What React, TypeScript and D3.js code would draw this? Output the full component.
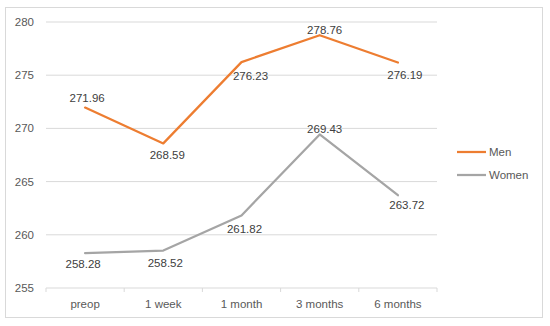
import React from "react";
import * as d3 from "d3";

const categories = ["preop", "1 week", "1 month", "3 months", "6 months"];
const menValues = [271.96, 268.59, 276.23, 278.76, 276.19];
const womenValues = [258.28, 258.52, 261.82, 269.43, 263.72];
const yTicks = [255, 260, 265, 270, 275, 280];
const seriesNames = ["Men", "Women"];

// label offsets (layout config, px)
const menLabelOffsets: [number, number][] = [[2, -10], [4, 12], [9, 14], [5, -5], [7, 12]];
const womenLabelOffsets: [number, number][] = [[-2, 11], [2, 12], [3, 14], [5, -5], [9, 10]];

const W = 550, H = 326;
const plotLeft = 46, plotRight = 437, plotTop = 22, plotBottom = 288;
const colors = ["#ED7D31", "#A5A5A5"];
const textColor = "#595959";
const font = "'Liberation Sans', Arial, sans-serif";

export default function App() {
  const x = d3.scaleBand<string>().domain(categories).range([plotLeft, plotRight]);
  const y = d3.scaleLinear().domain([255, 280]).range([plotBottom, plotTop]);
  const line = d3
    .line<number>()
    .x((_, i) => (x(categories[i]) as number) + x.bandwidth() / 2)
    .y((d) => y(d));
  const series = [
    { name: seriesNames[0], values: menValues, offs: menLabelOffsets, color: colors[0] },
    { name: seriesNames[1], values: womenValues, offs: womenLabelOffsets, color: colors[1] },
  ];
  const tickXs = [...categories.map((c) => x(c) as number), plotRight];
  return (
    <svg width={W} height={H} style={{ position: "absolute", left: 0, top: 0, background: "#fff" }}>
      <rect x={5.5} y={7.5} width={537} height={310} fill="#fff" stroke="#D9D9D9" strokeWidth={1} />
      {yTicks.map((t) => (
        <g key={t}>
          {t !== 255 && (
            <line x1={plotLeft} x2={plotRight} y1={y(t)} y2={y(t)} stroke="#D9D9D9" strokeWidth={1} />
          )}
          <text x={34} y={y(t)} dy="0.35em" textAnchor="end" fontSize={11.5} fill={textColor} fontFamily={font}>
            {t}
          </text>
        </g>
      ))}
      <line x1={plotLeft} x2={plotRight} y1={plotBottom} y2={plotBottom} stroke="#D9D9D9" strokeWidth={1} />
      {tickXs.map((tx, i) => (
        <line key={i} x1={tx} x2={tx} y1={plotBottom} y2={plotBottom + 4} stroke="#D9D9D9" strokeWidth={1} />
      ))}
      {categories.map((c) => (
        <text
          key={c}
          x={(x(c) as number) + x.bandwidth() / 2}
          y={308}
          textAnchor="middle"
          fontSize={11.5}
          fill={textColor}
          fontFamily={font}
        >
          {c}
        </text>
      ))}
      {series.map((s) => (
        <g key={s.name}>
          <path d={line(s.values) || ""} fill="none" stroke={s.color} strokeWidth={2.25} strokeLinejoin="round" strokeLinecap="round" />
          {s.values.map((v, i) => (
            <text
              key={i}
              x={(x(categories[i]) as number) + x.bandwidth() / 2 + s.offs[i][0]}
              y={y(v) + s.offs[i][1]}
              dy="0.35em"
              textAnchor="middle"
              fontSize={11.5}
              fill="#404040"
              fontFamily={font}
            >
              {v.toFixed(2)}
            </text>
          ))}
        </g>
      ))}
      {series.map((s, i) => (
        <g key={s.name} transform={`translate(457, ${152 + i * 23})`}>
          <line x1={0} x2={29} y1={0} y2={0} stroke={s.color} strokeWidth={2.25} />
          <text x={32} y={0} dy="0.35em" fontSize={11.5} fill={textColor} fontFamily={font}>
            {s.name}
          </text>
        </g>
      ))}
    </svg>
  );
}
